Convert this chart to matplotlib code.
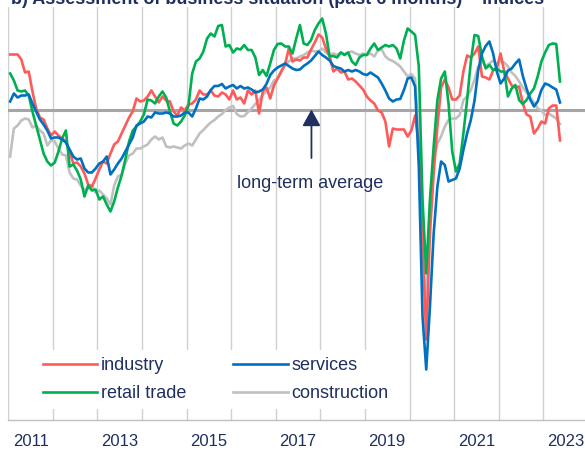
import numpy as np
import matplotlib
matplotlib.use('Agg')
import matplotlib.pyplot as plt

# monthly readings, Jan 2011 - May 2023, long-term average = 0
industry = [
    5.5, 5.5, 5.5, 5.0, 3.7, 3.8, 1.8, 0.1, -0.8, -1.0, -1.9, -2.6,
    -2.2, -2.6, -2.9, -3.2, -4.2, -5.4, -5.3, -5.7, -6.4, -7.5, -7.7, -6.9,
    -6.0, -5.2, -5.4, -4.4, -3.5, -3.2, -2.4, -1.6, -0.8, -0.2, 1.1, 0.8,
    0.9, 1.3, 1.9, 1.3, 0.7, 1.3, 0.9, 0.8, -0.2, -0.6, 0.2, -0.1,
    0.5, 0.6, 1.0, 1.9, 1.5, 1.5, 1.9, 1.4, 1.3, 1.7, 1.5, 1.0,
    1.9, 1.0, 1.2, 0.6, 1.9, 1.5, 1.9, -0.4, 1.8, 2.2, 1.1, 2.4,
    3.1, 3.8, 4.5, 6.1, 4.8, 5.0, 4.9, 5.2, 5.2, 6.0, 6.7, 7.5,
    7.2, 6.1, 5.3, 3.8, 4.1, 3.7, 3.8, 3.0, 3.1, 2.8, 2.4, 2.0,
    1.3, 0.9, 0.6, -0.1, -0.3, -1.2, -3.7, -1.9, -2.0, -2.0, -2.0, -2.7,
    -2.1, -0.6, -3.4, -13.0, -23.0, -12.4, -6.4, -1.7, 2.2, 3.0, 2.2, 1.0,
    1.0, 1.4, 3.8, 5.4, 5.2, 5.6, 6.3, 3.3, 3.2, 3.0, 3.9, 4.1,
    5.6, 3.8, 3.1, 2.4, 2.2, 2.3, 0.6, -0.5, -0.7, -2.4, -1.9, -1.2,
    -1.4, 0.1, 0.4, 0.4, -3.1,
]
services = [
    0.8, 1.6, 1.2, 1.4, 1.4, 1.5, 0.6, -0.2, -1.0, -1.5, -2.1, -2.9,
    -2.8, -2.8, -3.0, -3.3, -4.0, -4.7, -5.0, -4.9, -5.9, -6.3, -6.3, -5.9,
    -5.4, -5.2, -4.7, -6.5, -6.0, -5.4, -4.9, -4.2, -3.5, -2.8, -1.6, -1.4,
    -1.2, -0.7, -0.8, -0.3, -0.4, -0.4, -0.3, -0.4, -0.7, -0.7, -0.6, -0.3,
    -0.3, -0.7, 0.1, 1.1, 1.0, 1.3, 1.95, 2.35, 2.35, 2.55, 2.1, 2.3,
    2.45, 2.1, 2.35, 2.1, 2.2, 2.0, 1.7, 1.8, 2.0, 2.55, 3.45, 3.9,
    4.2, 4.4, 4.6, 4.35, 4.1, 3.95, 4.0, 4.35, 4.6, 4.9, 5.35, 5.8,
    5.45, 5.2, 4.9, 4.35, 4.2, 4.1, 3.8, 3.95, 3.8, 3.95, 3.8, 3.55,
    3.45, 3.7, 3.45, 3.2, 2.6, 1.9, 1.1, 0.8, 1.0, 1.05, 1.95, 3.1,
    3.2, 2.3, -5.7, -20.7, -26.0, -19.7, -12.4, -7.7, -5.2, -5.55, -7.2, -7.05,
    -6.9, -5.9, -4.05, -2.4, -1.05, 0.9, 3.95, 5.6, 6.35, 6.8, 5.6, 3.8,
    2.6, 3.1, 3.9, 4.1, 4.6, 5.0, 3.35, 2.1, 1.0, 0.3, 0.8, 1.95,
    2.6, 2.45, 2.2, 2.0, 0.7,
]
retail = [
    3.6, 2.9, 1.9, 1.8, 1.9, 1.4, -0.2, -1.6, -3.0, -4.4, -5.2, -5.6,
    -5.3, -4.2, -2.9, -2.1, -5.7, -5.5, -6.1, -7.0, -8.7, -7.6, -8.1, -8.0,
    -9.0, -8.7, -9.5, -10.2, -9.2, -7.8, -6.6, -5.0, -3.2, -2.1, -1.7, -1.2,
    -0.5, 1.0, 0.9, 0.6, 1.3, 1.8, 1.2, -0.2, -1.4, -1.6, -1.2, -0.6,
    0.4, 3.6, 4.8, 5.1, 5.8, 7.1, 7.6, 7.3, 8.35, 8.45, 6.3, 6.45,
    5.7, 6.1, 6.0, 6.45, 5.95, 5.95, 5.2, 3.45, 3.95, 3.35, 4.6, 5.95,
    6.55, 6.6, 6.3, 6.3, 5.6, 7.1, 8.45, 6.6, 6.45, 6.95, 7.95, 8.6,
    9.1, 7.6, 5.3, 5.35, 5.2, 5.7, 5.45, 5.7, 4.8, 4.45, 5.2, 5.45,
    5.45, 6.1, 6.6, 5.95, 6.2, 6.45, 6.3, 6.45, 6.1, 5.1, 6.9, 8.1,
    7.8, 7.45, 4.3, -9.0, -16.4, -9.0, -3.7, 0.95, 3.1, 3.8, 0.6, -4.2,
    -6.2, -5.4, -2.4, 0.95, 4.8, 7.45, 7.35, 5.3, 4.1, 4.45, 3.95, 4.1,
    3.8, 3.8, 1.3, 2.1, 2.45, 0.95, 0.55, 0.95, 1.6, 2.1, 3.3, 4.8,
    5.7, 6.45, 6.6, 6.55, 2.8,
]
construction = [
    -4.7, -1.9, -1.6, -1.1, -0.9, -1.0, -1.8, -1.6, -2.1, -2.4, -3.6, -3.1,
    -3.2, -3.9, -4.5, -4.6, -6.3, -6.9, -7.0, -7.6, -8.0, -7.9, -7.6, -8.3,
    -8.1, -8.5, -8.9, -9.5, -7.6, -6.7, -6.5, -5.4, -4.6, -4.4, -3.9, -3.9,
    -3.7, -3.5, -3.0, -2.7, -3.0, -2.8, -3.7, -3.8, -3.7, -3.8, -3.9, -3.6,
    -3.4, -3.6, -3.0, -2.4, -2.05, -1.65, -1.3, -1.05, -0.7, -0.45, -0.05, 0.2,
    0.35, -0.45, -0.7, -0.65, -0.25, 0.1, 0.55, 0.95, 1.45, 1.8, 2.2, 2.9,
    3.1, 3.9, 4.45, 4.8, 5.1, 5.1, 5.3, 5.45, 5.7, 5.9, 5.8, 5.8,
    6.1, 5.7, 5.45, 5.6, 5.45, 5.7, 5.55, 5.7, 5.8, 5.6, 5.45, 5.6,
    5.45, 5.6, 5.3, 5.9, 6.0, 5.3, 5.0, 4.85, 4.6, 4.3, 3.8, 3.3,
    3.55, 3.1, -3.05, -14.0, -20.0, -9.7, -5.05, -3.4, -2.7, -1.7, -1.05, -0.9,
    -0.9, -0.55, 0.95, 1.3, 1.95, 3.0, 4.3, 4.8, 4.35, 4.6, 4.9, 4.55,
    4.8, 4.7, 4.3, 3.7, 3.35, 2.8, 2.2, 1.7, 1.2, 0.7, 0.1, -0.1,
    -0.55, -0.4, -0.65, -0.9, -1.45,
]
long_term_avg = 0.0
start_year = 2011
label_years = [2011, 2013, 2015, 2017, 2019, 2021, 2023]

navy = '#1F3060'
plt.rcParams['font.family'] = ['Liberation Sans', 'DejaVu Sans']

months = np.arange(len(industry))
x = start_year + (months + 0.5) / 12

fig = plt.figure(figsize=(5.85, 4.5), dpi=100)
ax = fig.add_axes([8.3 / 585, 30 / 450, 1 - 8.3 / 585, 413.5 / 450])

ax.axhline(long_term_avg, color='#A6A6A6', lw=2.2, zorder=1.5)

l_cons, = ax.plot(x, construction, color='#C0C0C0', lw=1.9, zorder=2, label='construction')
l_ind, = ax.plot(x, industry, color='#FF5A5A', lw=1.9, zorder=3, label='industry')
l_ret, = ax.plot(x, retail, color='#00B050', lw=1.9, zorder=4, label='retail trade')
l_ser, = ax.plot(x, services, color='#0070C0', lw=1.9, zorder=5, label='services')

ax.set_xlim(start_year, start_year + 576.7 / 44.58)
ax.set_ylim(-31.05, 10.3)

ax.set_xticks(np.arange(start_year, 2024))
ax.tick_params(axis='x', which='major', length=0, labelbottom=False)
ax.set_xticks([y + 0.5 for y in label_years], minor=True)
ax.set_xticklabels([str(y) for y in label_years], minor=True)
ax.tick_params(axis='x', which='minor', length=0, pad=10, labelsize=12, labelcolor=navy)
ax.set_yticks([])
ax.grid(axis='x', which='major', color='#D0D0D0', lw=1.0)
ax.set_axisbelow(True)

for s in ['top', 'right', 'left']:
    ax.spines[s].set_visible(False)
ax.spines['bottom'].set_color('#BFBFBF')
ax.spines['bottom'].set_linewidth(1.0)

# arrow + label for the long-term average
ax.annotate('', xy=(2017.8, long_term_avg), xytext=(2017.8, -4.85),
            arrowprops=dict(arrowstyle='-|>,head_length=1.0,head_width=0.55',
                            mutation_scale=10, color=navy, lw=1.3,
                            shrinkA=0, shrinkB=0), zorder=6)
ax.text(2017.77, -7.35, 'long-term average', ha='center', va='center',
        fontsize=13, color=navy)

leg = ax.legend(handles=[l_ind, l_ret, l_ser, l_cons], ncol=2,
                loc='upper left', bbox_to_anchor=(27 / 585, 1 - 341 / 450),
                bbox_transform=fig.transFigure, fontsize=13,
                frameon=True, fancybox=False, framealpha=1, edgecolor='none',
                facecolor='white', borderpad=0.4, handlelength=3.0,
                handletextpad=0.2, columnspacing=2.6, labelspacing=0.6)
for t in leg.get_texts():
    t.set_color(navy)

# the chart title runs off the top edge in the source, only its foot shows
fig.text(0.018, 1 - 3.5 / 450, 'b) Assessment of business situation (past 6 months) – indices',
         fontsize=13, fontweight='bold', color=navy, ha='left', va='baseline')

fig.savefig('out.png', dpi=100)
